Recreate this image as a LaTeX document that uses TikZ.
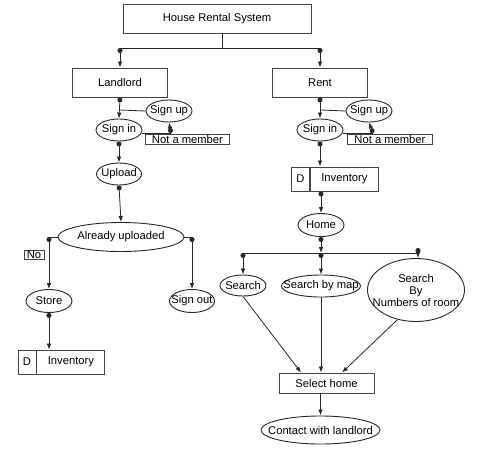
\documentclass[tikz,border=0pt]{standalone}
\usepackage{fontspec}
\setmainfont{Liberation Sans}
\usetikzlibrary{arrows.meta,calc,positioning,shapes.geometric}
\definecolor{hrline}{RGB}{40,40,40}
\definecolor{hrbox}{RGB}{70,70,70}
\newcommand{\invbox}[3]{%
  \node[hbox,minimum width=18,minimum height=24] (#1d) at (#2,#3) {D};
  \node[hbox,minimum width=68,minimum height=24,anchor=west] (#1) at (#1d.east) {Inventory};
}
\newcommand{\tight}[1]{\makebox[0pt]{#1}}

\begin{document}
\begin{tikzpicture}[x=1pt,y=-1pt,font=\fontsize{11.2}{12.5}\selectfont,
    hbox/.style={draw=hrbox,line width=.9pt,rectangle,inner sep=0pt},
    hell/.style={draw=hrline,line width=.9pt,ellipse,inner sep=0pt},
    hlab/.style={draw=hrbox,line width=.9pt,rectangle,inner sep=1pt,fill=white},
    conn/.style={draw=hrline,line width=.8pt},
    arr/.style={conn,-{Latex[length=6pt,width=4.5pt]}},
    dotarr/.style={conn,{Circle[length=5pt,width=5pt]}-{Latex[length=6pt,width=4.5pt]}}]
    \useasboundingbox (0,0) rectangle (496,459);
    % top
    \node[hbox,minimum width=188,minimum height=29] (title) at (217,18.5) {House Rental System};
    \node[hbox,minimum width=95,minimum height=29] (landlord) at (120,82.5) {Landlord};
    \node[hbox,minimum width=95,minimum height=29] (rent) at (320,82.5) {Rent};
    \coordinate (tj) at (222,48);
    \coordinate (busL) at (120,48);
    \coordinate (busR) at (320,48);
    \draw[conn] (tj |- title.south) -- (tj);
    \draw[conn] (busL) -- (busR);
    \draw[dotarr] (busL) -- (landlord.north);
    \draw[dotarr] (busR) -- (rent.north);
    % landlord side
    \node[hell,minimum width=46,minimum height=22] (signinL) at (119,130) {\tight{Sign in}};
    \node[hell,minimum width=46,minimum height=22] (signupL) at (169,111) {\tight{Sign up}};
    \node[hlab,minimum width=84,anchor=north west] (notL) at (145,134) {Not a member};
    \node[hell,minimum width=45,minimum height=22] (upload) at (119,174) {\tight{Upload}};
    \node[hell,minimum width=126,minimum height=29] (already) at (121,237) {\tight{Already uploaded}};
    \node[hell,minimum width=46,minimum height=23] (store) at (49,301) {\tight{Store}};
    \node[hell,minimum width=45,minimum height=23] (signout) at (192,301) {\tight{Sign out}};
    \node[hlab,minimum width=20] (no) at (34,255) {No};
    \invbox{invL}{27}{362}
    \coordinate (supL) at (120,110);
    \coordinate (nmL) at (171,133);
    \coordinate (noj) at (49,237);
    \coordinate (outj) at (192,237);
    \draw[dotarr] (landlord.south) -- (signinL.north);
    \draw[conn] (supL) -- (signupL.west);
    \draw[conn] (signinL.east |- nmL) -- (nmL);
    \draw[dotarr] (nmL) -- (signupL.south);
    \draw[dotarr] (signinL.south) -- (upload.north);
    \draw[dotarr] (upload.south) -- (already.north);
    \draw[conn] (already.west) -- (noj);
    \draw[dotarr] (noj) -- (store.north);
    \draw[conn] (already.east) -- (outj);
    \draw[dotarr] (outj) -- (signout.north);
    \draw[dotarr] (store.south) -- (store.south |- invL.north);
    % rent side
    \node[hell,minimum width=46,minimum height=22] (signinR) at (320,130) {\tight{Sign in}};
    \node[hell,minimum width=46,minimum height=22] (signupR) at (369,111) {\tight{Sign up}};
    \node[hlab,minimum width=85,anchor=north west] (notR) at (347,134) {Not a member};
    \invbox{invR}{300.5}{179}
    \node[hell,minimum width=46,minimum height=23] (home) at (321,225) {\tight{Home}};
    \node[hell,minimum width=46,minimum height=21] (search) at (243,285.5) {\tight{Search}};
    \node[hell,minimum width=79,minimum height=22] (bymap) at (321,286) {\tight{Search by map}};
    \node[hell,minimum width=97,minimum height=63,align=center,font=\fontsize{11.2}{12}\selectfont] (bynum) at (416,290) {\tight{Search}\\\tight{By}\\\tight{Numbers of room}};
    \node[hbox,minimum width=95,minimum height=20] (select) at (326.5,383) {Select home};
    \node[hell,minimum width=119,minimum height=28] (contact) at (320.5,430) {\tight{Contact with landlord}};
    \coordinate (supR) at (321,110);
    \coordinate (nmR) at (373,133);
    \coordinate (hj) at (321,253);
    \coordinate (hjL) at (243,253);
    \coordinate (hjR) at (418,253);
    \draw[dotarr] (rent.south) -- (signinR.north);
    \draw[conn] (supR) -- (signupR.west);
    \draw[conn] (signinR.east |- nmR) -- (nmR);
    \draw[dotarr] (nmR) -- (signupR.south);
    \draw[dotarr] (signinR.south) -- (signinR.south |- invR.north);
    \draw[dotarr] (invR.south -| home.south) -- (home.north);
    \draw[dotarr] (home.south) -- (hj);
    \draw[conn] (hjL) -- (hjR);
    \draw[dotarr] (hjL) -- (search.north);
    \draw[dotarr] (hj) -- (bymap.north);
    \draw[dotarr] (hjR) -- (bynum.north -| hjR);
    \draw[arr] (search.south) -- ([xshift=-25.5]select.north);
    \draw[arr] (bymap.south) -- (bymap.south |- select.north);
    \draw[arr] (bynum.-122) -- ([xshift=15.5]select.north);
    \draw[arr] ([xshift=-6]select.south) -- (contact.north);
\end{tikzpicture}
\end{document}
